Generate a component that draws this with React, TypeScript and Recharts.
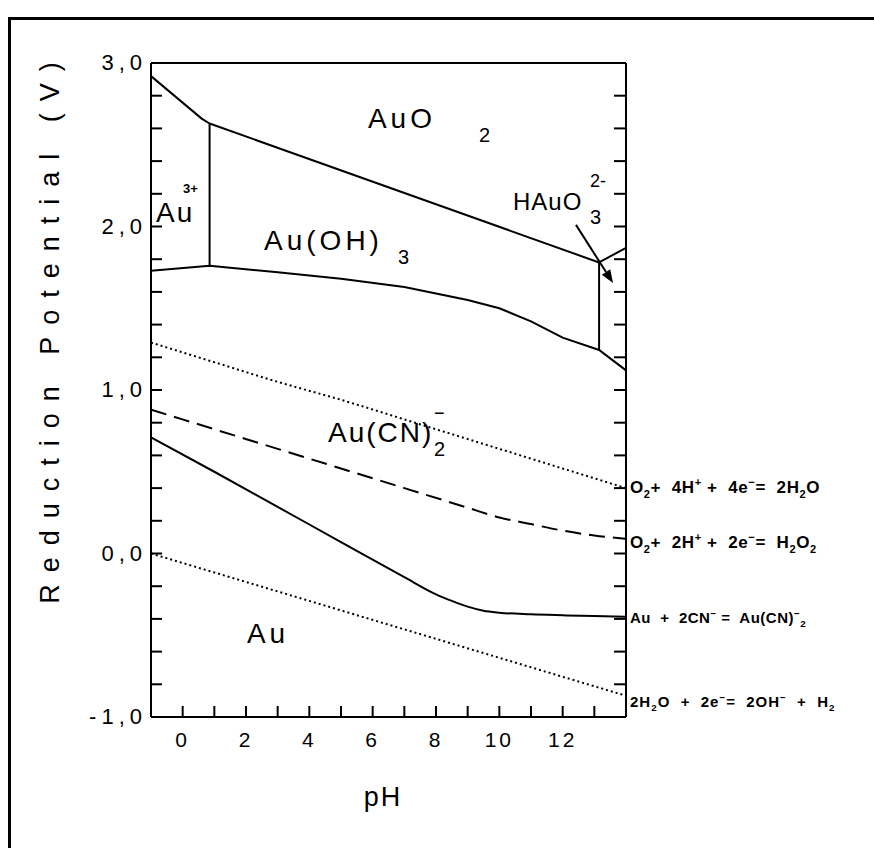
import React from "react";
import { LineChart, Line, XAxis, YAxis, ReferenceDot, ReferenceLine } from "recharts";

// boundary lines of the Au–CN–H2O Pourbaix diagram, [pH, E (V)]
const au3Auo2: [number, number][] = [[-1, 2.92], [0.6, 2.66], [0.85, 2.63]];
const au3AuOH3: [number, number][] = [[0.85, 2.63], [0.85, 1.76]];
const auo2AuOH3: [number, number][] = [[0.85, 2.63], [13.15, 1.78]];
const auo2HAuO3: [number, number][] = [[13.15, 1.78], [14, 1.87]];
const auOH3HAuO3: [number, number][] = [[13.15, 1.78], [13.15, 1.245]];
const auOH3Lower: [number, number][] = [
  [-1, 1.73], [0.85, 1.76], [3, 1.72], [5, 1.68], [7, 1.63], [9, 1.55],
  [10, 1.5], [11, 1.42], [12, 1.32], [13.15, 1.245], [14, 1.12],
];
const o2Water: [number, number][] = [
  [-1, 1.29], [1, 1.17], [3, 1.05], [5, 0.94], [7, 0.82], [9, 0.7],
  [11, 0.58], [12, 0.52], [13, 0.46], [14, 0.4],
];
const o2Peroxide: [number, number][] = [
  [-1, 0.88], [1, 0.76], [3, 0.64], [5, 0.52], [7, 0.4], [9, 0.28],
  [10, 0.22], [11, 0.18], [12, 0.14], [13, 0.11], [14, 0.09],
];
const auCyanide: [number, number][] = [
  [-1, 0.71], [1, 0.5], [3, 0.285], [5, 0.07], [7, -0.145], [8, -0.25],
  [8.5, -0.29], [9, -0.325], [9.5, -0.35], [10, -0.362], [11, -0.372],
  [12, -0.378], [13, -0.383], [14, -0.387],
];
const waterH2: [number, number][] = [[-1, 0.0], [14, -0.87]];

const phTicks = [-1, 0, 1, 2, 3, 4, 5, 6, 7, 8, 9, 10, 11, 12, 13, 14];
const phLabels = [0, 2, 4, 6, 8, 10, 12];
const eTicks = [
  -1, -0.8, -0.6, -0.4, -0.2, 0, 0.2, 0.4, 0.6, 0.8, 1,
  1.2, 1.4, 1.6, 1.8, 2, 2.2, 2.4, 2.6, 2.8, 3,
];
const eLabels = [-1, 0, 1, 2, 3];

const pts = (a: [number, number][]) => a.map(([ph, e]) => ({ ph, e }));

const FONT = "'Liberation Sans', Arial, sans-serif";
const TICK = 11;

const fmtE = (v: number) => v.toFixed(1).replace(".", ",");
const near = (v: number, list: number[]) => list.some((l) => Math.abs(l - v) < 1e-6);

const BottomTick = (p: any) => {
  const v = p.payload.value;
  return (
    <g>
      <line x1={p.x} y1={p.y} x2={p.x} y2={p.y - TICK} stroke="#000" strokeWidth={2} />
      {near(v, phLabels) && (
        <text x={p.x} y={p.y + 30} textAnchor="middle" fontSize={21} fontFamily={FONT} letterSpacing={3} fill="#000">
          {v}
        </text>
      )}
    </g>
  );
};

const TopTick = (p: any) => (
  <line x1={p.x} y1={p.y} x2={p.x} y2={p.y + TICK + 2} stroke="#000" strokeWidth={2} />
);

const LeftTick = (p: any) => {
  const v = p.payload.value;
  return (
    <g>
      <line x1={p.x} y1={p.y} x2={p.x + TICK} y2={p.y} stroke="#000" strokeWidth={2} />
      {near(v, eLabels) && (
        <text x={p.x - 4} y={p.y + 7} textAnchor="end" fontSize={22} fontFamily={FONT} letterSpacing={5} fill="#000">
          {fmtE(v)}
        </text>
      )}
    </g>
  );
};

const RightTick = (p: any) => (
  <line x1={p.x} y1={p.y} x2={p.x - TICK - 1} y2={p.y} stroke="#000" strokeWidth={2} />
);

const big = { fontSize: 28, fontFamily: FONT, letterSpacing: 4, fill: "#000" };

// region label helpers (anchored at the text baseline, left edge)
const RegionLabel = ({ cx, cy, main, sub, sup, subDx, style = big }: any) => (
  <g>
    <text x={cx} y={cy} {...style}>{main}</text>
    {sub && <text x={cx + subDx} y={cy + 14} fontSize={20} fontFamily={FONT} fill="#000">{sub}</text>}
    {sup && <text x={cx + subDx} y={cy - 23} fontSize={18} fontFamily={FONT} fill="#000">{sup}</text>}
  </g>
);

// reaction equation at the right of the frame; parts: [text, shift]
const Equation = ({ cx, cy, parts, size = 16, spacing = 0 }: { cx: number; cy: number; parts: [string, number][]; size?: number; spacing?: number }) => (
  <text
    x={cx + 4} y={cy} fontSize={size} fontFamily={FONT} fontWeight={700} fill="#000"
    letterSpacing={spacing} style={{ whiteSpace: "pre" }}
  >
    {parts.map(([t, s], i) => {
      const prev = i > 0 ? parts[i - 1][1] : 0;
      return (
        <tspan key={i} dy={s - prev} fontSize={s === 0 ? size : size * 0.65}>
          {t}
        </tspan>
      );
    })}
  </text>
);

const Arrow = (p: any) => {
  const { x1, y1, x2, y2 } = p;
  const a = Math.atan2(y2 - y1, x2 - x1);
  const L = 13;
  const W = 5;
  const bx = x2 - L * Math.cos(a);
  const by = y2 - L * Math.sin(a);
  return (
    <g>
      <line x1={x1} y1={y1} x2={bx} y2={by} stroke="#000" strokeWidth={2} />
      <polygon
        points={`${x2},${y2} ${bx + W * Math.sin(a)},${by - W * Math.cos(a)} ${bx - W * Math.sin(a)},${by + W * Math.cos(a)}`}
        fill="#000"
      />
    </g>
  );
};

const solid = { stroke: "#000", strokeWidth: 2, dot: false, activeDot: false, isAnimationActive: false, xAxisId: "ph", yAxisId: "e", dataKey: "e" } as const;

export default function App() {
  return (
    <div style={{ position: "absolute", left: 0, top: 0, width: 874, height: 848, overflow: "hidden", background: "#fff" }}>
      <div
        style={{
          position: "absolute", left: 8, top: 17, width: 900, height: 900,
          borderLeft: "3px solid #000", borderTop: "3px solid #000",
        }}
      />
      <div style={{ position: "absolute", left: 0, top: 0 }}>
        <LineChart width={874} height={848} margin={{ top: 62, right: 247, bottom: 130, left: 150 }}>
          <XAxis
            xAxisId="ph" type="number" dataKey="ph" domain={[-1, 14]} ticks={phTicks} interval={0}
            height={1} tickSize={0} tickMargin={0} tick={BottomTick} allowDataOverflow
            axisLine={{ stroke: "#000", strokeWidth: 2 }}
            label={{
              content: () => (
                <text x={383} y={806} textAnchor="middle" fontSize={27} fontFamily={FONT} letterSpacing={2} fill="#000">
                  pH
                </text>
              ),
            }}
          />
          <XAxis
            xAxisId="top" orientation="top" type="number" domain={[-1, 14]} ticks={phTicks} interval={0}
            height={1} tickSize={0} tickMargin={0} tick={TopTick} allowDataOverflow
            axisLine={{ stroke: "#000", strokeWidth: 2 }}
          />
          <YAxis
            yAxisId="e" type="number" domain={[-1, 3]} ticks={eTicks} interval={0}
            width={1} tickSize={0} tickMargin={0} tick={LeftTick} allowDataOverflow
            axisLine={{ stroke: "#000", strokeWidth: 2 }}
            label={{
              content: () => (
                <text
                  x={59} y={327} transform="rotate(-90 59 327)" textAnchor="middle"
                  fontSize={27} fontFamily={FONT} letterSpacing={12} fill="#000"
                >
                  Reduction Potential (V)
                </text>
              ),
            }}
          />
          <YAxis
            yAxisId="right" orientation="right" type="number" domain={[-1, 3]} ticks={eTicks} interval={0}
            width={1} tickSize={0} tickMargin={0} tick={RightTick} allowDataOverflow
            axisLine={{ stroke: "#000", strokeWidth: 2 }}
          />

          <Line {...solid} data={pts(au3Auo2)} type="linear" />
          <Line {...solid} data={pts(au3AuOH3)} type="linear" />
          <Line {...solid} data={pts(auo2AuOH3)} type="linear" />
          <Line {...solid} data={pts(auo2HAuO3)} type="linear" />
          <Line {...solid} data={pts(auOH3HAuO3)} type="linear" />
          <Line {...solid} data={pts(auOH3Lower)} type="linear" />
          <Line {...solid} data={pts(o2Water)} type="monotone" strokeDasharray="2 3" />
          <Line {...solid} data={pts(o2Peroxide)} type="monotone" strokeDasharray="16 8" />
          <Line {...solid} data={pts(auCyanide)} type="monotone" />
          <Line {...solid} data={pts(waterH2)} type="linear" strokeDasharray="2 3" />

          <ReferenceLine
            xAxisId="ph" yAxisId="e" ifOverflow="visible"
            segment={[{ x: 12.42, y: 2.01 }, { x: 13.59, y: 1.655 }]}
            shape={Arrow}
          />

          <ReferenceDot xAxisId="ph" yAxisId="e" x={5.85} y={2.6} r={0} ifOverflow="visible"
            shape={(p: any) => <RegionLabel cx={p.cx} cy={p.cy} main="AuO" sub="2" subDx={111} />} />
          <ReferenceDot xAxisId="ph" yAxisId="e" x={2.57} y={1.856} r={0} ifOverflow="visible"
            shape={(p: any) => <RegionLabel cx={p.cx} cy={p.cy} main="Au(OH)" sub="3" subDx={134} />} />
          <ReferenceDot xAxisId="ph" yAxisId="e" x={-0.84} y={2.027} r={0} ifOverflow="visible"
            shape={(p: any) => (
              <g>
                <text x={p.cx} y={p.cy} {...big} letterSpacing={2}>Au</text>
                <text x={p.cx + 27} y={p.cy - 29} fontSize={13} fontWeight={700} fontFamily={FONT} fill="#000">3+</text>
              </g>
            )} />
          <ReferenceDot xAxisId="ph" yAxisId="e" x={10.43} y={2.1} r={0} ifOverflow="visible"
            shape={(p: any) => (
              <RegionLabel cx={p.cx} cy={p.cy} main="HAuO" sub="3" sup="2-" subDx={77}
                style={{ ...big, fontSize: 24, letterSpacing: 1 }} />
            )} />
          <ReferenceDot xAxisId="ph" yAxisId="e" x={4.59} y={0.682} r={0} ifOverflow="visible"
            shape={(p: any) => (
              <RegionLabel cx={p.cx} cy={p.cy} main="Au(CN)" sub="2" sup="−" subDx={106}
                style={{ ...big, letterSpacing: 2 }} />
            )} />
          <ReferenceDot xAxisId="ph" yAxisId="e" x={2.03} y={-0.547} r={0} ifOverflow="visible"
            shape={(p: any) => <RegionLabel cx={p.cx} cy={p.cy} main="Au" />} />

          <ReferenceDot xAxisId="ph" yAxisId="e" x={14} y={0.37} r={0} ifOverflow="visible"
            shape={(p: any) => (
              <Equation size={17} spacing={0.6} cx={p.cx} cy={p.cy} parts={[
                ["O", 0], ["2", 5], ["+  4H", 0], ["+", -7], [" +  4e", 0], ["−", -7], ["=  2H", 0], ["2", 5], ["O", 0],
              ]} />
            )} />
          <ReferenceDot xAxisId="ph" yAxisId="e" x={14} y={0.034} r={0} ifOverflow="visible"
            shape={(p: any) => (
              <Equation size={17} spacing={0.6} cx={p.cx} cy={p.cy} parts={[
                ["O", 0], ["2", 5], ["+  2H", 0], ["+", -7], [" +  2e", 0], ["−", -7], ["=  H", 0], ["2", 5], ["O", 0], ["2", 5],
              ]} />
            )} />
          <ReferenceDot xAxisId="ph" yAxisId="e" x={14} y={-0.425} r={0} ifOverflow="visible"
            shape={(p: any) => (
              <Equation size={15} spacing={0.5} cx={p.cx} cy={p.cy} parts={[
                ["Au  +  2CN", 0], ["−", -6], [" =  Au(CN)", 0], ["−", -6], ["2", 4],
              ]} />
            )} />
          <ReferenceDot xAxisId="ph" yAxisId="e" x={14} y={-0.939} r={0} ifOverflow="visible"
            shape={(p: any) => (
              <Equation size={15} spacing={1} cx={p.cx} cy={p.cy} parts={[
                ["2H", 0], ["2", 4], ["O  +  2e", 0], ["−", -6], ["=  2OH", 0], ["−", -6], ["  +  H", 0], ["2", 4],
              ]} />
            )} />
        </LineChart>
      </div>
    </div>
  );
}
